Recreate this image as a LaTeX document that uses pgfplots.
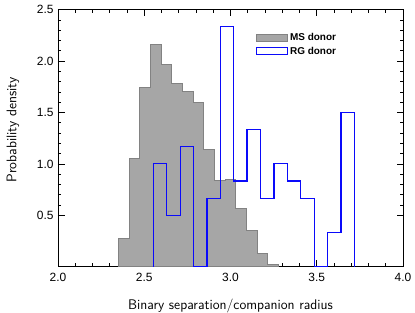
\documentclass[border=0pt]{standalone}
\usepackage{pgfplots}
\pgfplotsset{compat=1.18}
\usepackage{fontspec}
\newfontfamily\helv{Liberation Sans}
\definecolor{msfill}{RGB}{166,166,166}
\definecolor{msedge}{RGB}{130,130,130}
\definecolor{rgblue}{RGB}{10,10,250}
\begin{document}
\begin{tikzpicture}
\begin{axis}[
  scale only axis, width=345bp, height=257bp,
  xmin=2.0, xmax=4.0, ymin=0, ymax=2.5,
  xtick={2.0,2.5,3.0,3.5,4.0},
  ytick={0.5,1.0,1.5,2.0,2.5},
  minor x tick num=4, minor y tick num=4,
  tick align=inside, tick pos=both,
  major tick length=6.5bp, minor tick length=3.3bp,
  axis line style={line width=0.9bp},
  every tick/.style={black, line width=0.7bp},
  /pgf/number format/assume math mode=true,
  /pgf/number format/.cd, fixed, fixed zerofill, precision=1, /pgfplots/.cd,
  ticklabel style={font=\helv\fontsize{12}{14}\selectfont},
  xticklabel style={yshift=-2.5bp},
  yticklabel style={xshift=-1bp},
  xlabel={Binary separation/companion radius},
  ylabel={Probability density},
  label style={font=\sffamily\fontsize{14}{16}\selectfont},
  xlabel style={at={(rel axis cs:0.5,0)}, anchor=base, yshift=-43bp},
  ylabel style={at={(rel axis cs:0,0.532)}, anchor=center, yshift=45bp},
  legend style={draw=none, fill=none, at={(rel axis cs:0.573,0.917)}, anchor=north west,
    font=\helv\bfseries\fontsize{10}{12}\selectfont, row sep=1bp, inner sep=0pt},
  legend cell align=left,
  clip=false,
]
\addplot[fill=msfill, draw=msedge, line width=0.9bp, sharp plot,
  legend image code/.code={\draw[fill=msfill, draw=msedge, line width=0.9bp] (0bp,-3.5bp) rectangle (31bp,3.5bp);}]
coordinates {
(2.350,0) (2.350,0.27) (2.412,0.27) (2.412,1.054) (2.474,1.054) (2.474,1.748)
(2.536,1.748) (2.536,2.16) (2.598,2.16) (2.598,1.97) (2.660,1.97) (2.660,1.784)
(2.722,1.784) (2.722,1.70) (2.784,1.70) (2.784,1.602) (2.845,1.602) (2.845,1.142)
(2.907,1.142) (2.907,0.843) (2.969,0.843) (2.969,0.853) (3.031,0.853) (3.031,0.568)
(3.093,0.568) (3.093,0.35) (3.155,0.35) (3.155,0.13) (3.217,0.13) (3.217,0.02)
(3.279,0.02) (3.279,0)
} -- cycle;
\addlegendentry{MS donor}
\addplot[draw=rgblue, fill=none, line width=1.2bp, line join=miter, sharp plot, mark=none,
  legend image code/.code={\draw[draw=rgblue, line width=1.2bp] (0bp,-3.5bp) rectangle (31bp,3.5bp);}]
coordinates {
(2.553,0) (2.553,1.0) (2.631,1.0) (2.631,0.5) (2.709,0.5) (2.709,1.167)
(2.786,1.167) (2.786,0) (2.864,0) (2.864,0.667) (2.941,0.667) (2.941,2.333)
(3.019,2.333) (3.019,0.833) (3.096,0.833) (3.096,1.333) (3.174,1.333) (3.174,0.667)
(3.252,0.667) (3.252,1.0) (3.329,1.0) (3.329,0.833) (3.407,0.833) (3.407,0.667)
(3.485,0.667) (3.485,0) (3.562,0) (3.562,0.333) (3.640,0.333) (3.640,1.5)
(3.718,1.5) (3.718,0)
};
\addlegendentry{RG donor}
\end{axis}
\pgfresetboundingbox
\useasboundingbox (current axis.south west) ++(-58bp,-46.3bp) rectangle ([xshift=12bp,yshift=9.7bp]current axis.north east);
\end{tikzpicture}
\end{document}
